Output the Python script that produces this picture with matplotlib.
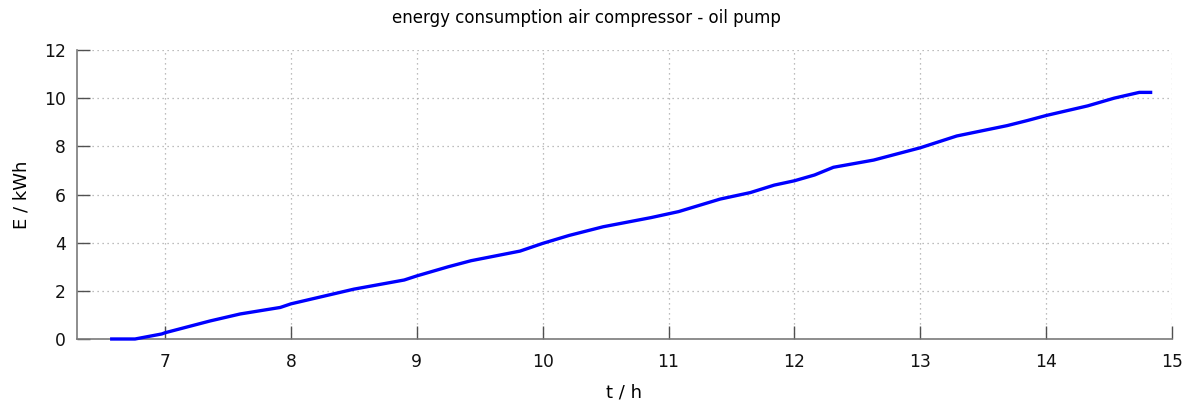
import matplotlib
matplotlib.use("Agg")
import matplotlib.pyplot as plt

# Data (time in hours, cumulative energy in kWh)
t_h = [6.576, 6.761, 6.974, 7.0, 7.358, 7.597, 7.915, 8.0, 8.5, 8.9, 9.0, 9.25,
       9.43, 9.82, 10.0, 10.21, 10.48, 10.86, 11.08, 11.41, 11.65, 11.84, 12.0,
       12.16, 12.31, 12.63, 13.0, 13.29, 13.69, 13.85, 14.0, 14.33, 14.54,
       14.74, 14.83]
e_kwh = [0.0, 0.0, 0.21, 0.26, 0.75, 1.04, 1.31, 1.46, 2.07, 2.45, 2.62, 3.0,
         3.25, 3.65, 3.97, 4.3, 4.66, 5.04, 5.29, 5.81, 6.08, 6.39, 6.57,
         6.81, 7.13, 7.43, 7.94, 8.43, 8.86, 9.07, 9.28, 9.68, 10.0,
         10.24, 10.24]

x_ticks = [7, 8, 9, 10, 11, 12, 13, 14, 15]
y_ticks = [0, 2, 4, 6, 8, 10, 12]

plt.rcParams['font.family'] = ['DejaVu Sans']
fig = plt.figure(figsize=(11.89, 4.08), dpi=100)
ax = fig.add_axes([77/1189, 1-339/408, (1172-77)/1189, (339-50)/408])

ax.plot(t_h, e_kwh, color='#0000ff', lw=2.4, solid_joinstyle='round',
        clip_on=False, zorder=3)

ax.set_xlim(6.3, 15)
ax.set_ylim(0, 12)
ax.set_xticks(x_ticks)
ax.set_yticks(y_ticks)

ax.grid(True, color='#a8a8a8', linestyle=(0, (1, 3)), lw=0.9)
ax.set_axisbelow(True)

for s in ['top', 'right']:
    ax.spines[s].set_visible(False)
for s in ['left', 'bottom']:
    ax.spines[s].set_color('#7a7a7a')
    ax.spines[s].set_linewidth(1.2)
    ax.spines[s].set_zorder(2)

ax.tick_params(axis='both', direction='in', length=9.5, width=1.0,
               color='#505050', labelsize=12.3, labelcolor='#111111')
ax.tick_params(axis='x', pad=10)
ax.tick_params(axis='y', pad=8)

ax.set_xlabel('t / h', fontsize=13, labelpad=9)
ax.set_ylabel('E / kWh', fontsize=13, labelpad=10)

fig.text(586/1189, 1-18/408, 'energy consumption air compressor - oil pump',
         ha='center', va='center', fontsize=12)

fig.savefig('out.png', dpi=100)
